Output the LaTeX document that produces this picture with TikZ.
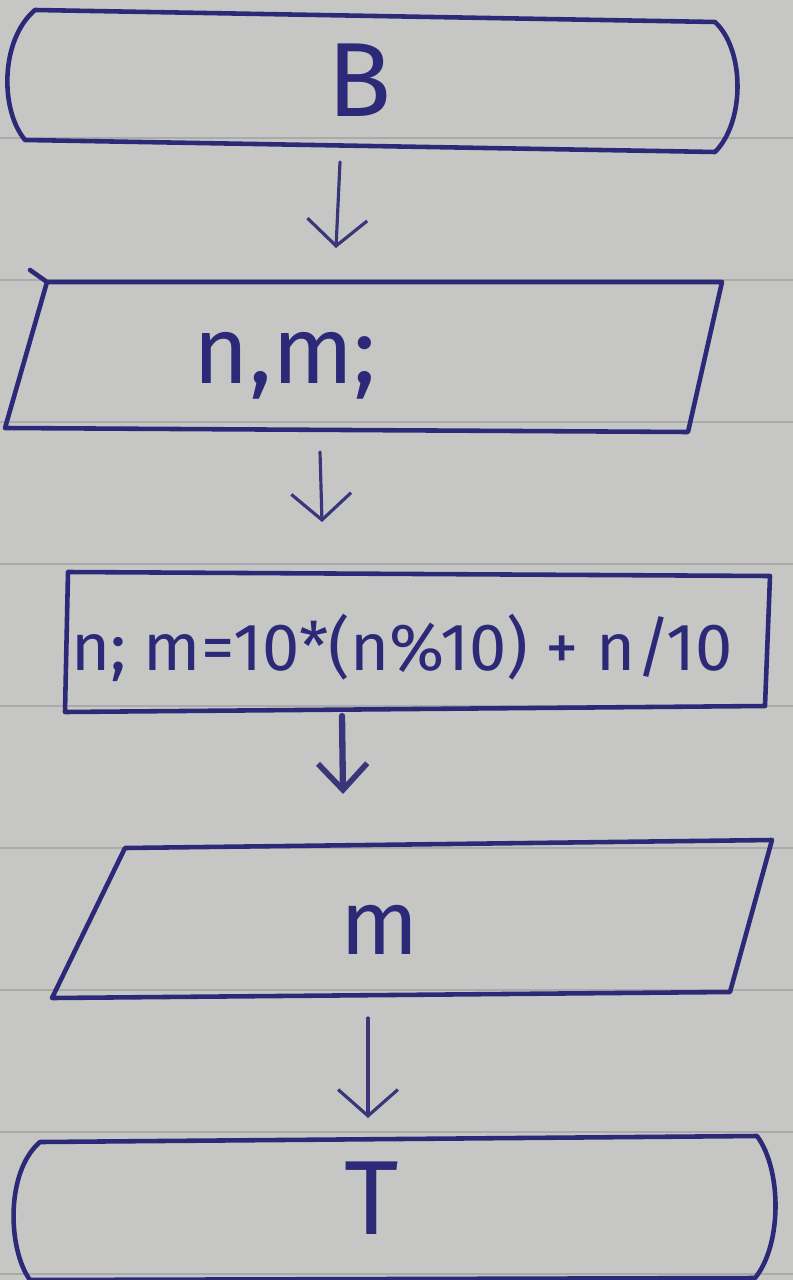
\documentclass[tikz,border=0pt]{standalone}
\usepackage{fontspec}
\setmainfont{Fira Sans}
\usetikzlibrary{arrows.meta}
\definecolor{paper}{HTML}{C6C7C4}
\definecolor{rule}{HTML}{A9AAA9}
\definecolor{ink}{HTML}{2C2A78}
\tikzset{
  shapeline/.style={draw=ink, line width=2.6pt, line join=round, line cap=round},
  lbl/.style={text=ink, inner sep=0pt, anchor=center},
  flow/.style={draw=ink!85!gray, line width=1.8pt, line cap=round,
    -{Straight Barb[length=15pt, width=34pt, line width=1.8pt]}},
  flowthick/.style={draw=ink!85!gray, line width=3.6pt, line cap=round,
    -{Straight Barb[length=15pt, width=28pt, line width=3.2pt]}},
  ruleline/.style={draw=rule, line width=0.8pt}
}
\begin{document}
\begin{tikzpicture}[x=0.02cm, y=-0.02cm]
\useasboundingbox (0,0) rectangle (793,1280);
\fill[paper] (0,0) rectangle (793,1280);
% ruled lines
\foreach \yy in {138,280,422,564,706,848,990,1132,1274}
  \draw[ruleline] (0,\yy) -- (793,\yy);
% start terminal
\draw[shapeline] (35,10) -- (715,22) .. controls (745,50) and (745,122) .. (715,152) -- (25,140) .. controls (0,110) and (0,40) .. (35,10);
\node[lbl, font=\fontsize{60}{62}\selectfont] (tB) at (360,80) {B};
% input parallelogram
\draw[shapeline] (30,270) -- (47,282) -- (722,282) -- (688,432) -- (5,428) -- (47,282);
\node[lbl, font=\fontsize{54}{56}\selectfont] (tIn) at (285,366) {n,m;};
% process
\draw[shapeline] (68,572) -- (770,576) -- (765,706) -- (65,712) -- cycle;
\node[lbl, font=\fontsize{38}{40}\selectfont] (tProc) at (402,648) {n; m=10*(n\%10) + n/10};
% output parallelogram
\draw[shapeline] (125,848) -- (772,840) -- (730,992) -- (52,998) -- cycle;
\node[lbl, font=\fontsize{52}{54}\selectfont] (tOut) at (380,930) {m};
% end terminal
\draw[shapeline] (40,1142) -- (757,1136) .. controls (782,1170) and (782,1245) .. (755,1278) -- (30,1280) .. controls (8,1250) and (5,1172) .. (40,1142);
\node[lbl, font=\fontsize{60}{62}\selectfont] (tT) at (372,1198) {T};
% connector end points
\coordinate (a1s) at (340,162);
\coordinate (a1e) at (336,248);
\coordinate (a2s) at (320,452);
\coordinate (a2e) at (322,522);
\coordinate (a3s) at (342,716);
\coordinate (a3e) at (343,794);
\coordinate (a4s) at (368,1018);
\coordinate (a4e) at (368,1118);
\draw[flow] (a1s) -- (a1e);
\draw[flow] (a2s) -- (a2e);
\draw[flowthick] (a3s) -- (a3e);
\draw[flow] (a4s) -- (a4e);
\end{tikzpicture}
\end{document}
